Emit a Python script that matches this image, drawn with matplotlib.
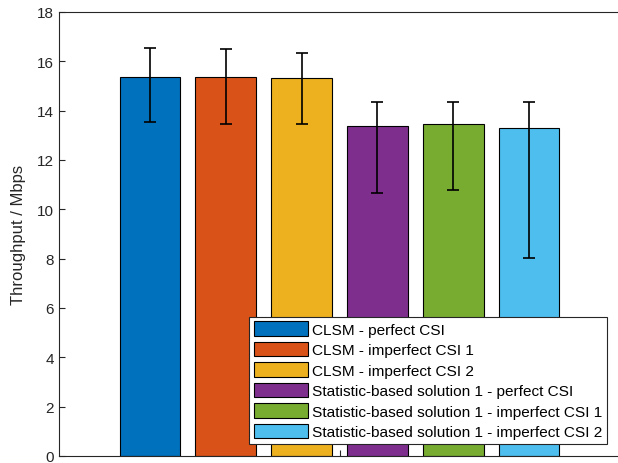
import numpy as np
import matplotlib
matplotlib.use('Agg')
import matplotlib.pyplot as plt

plt.rcParams['font.family'] = ['Liberation Sans', 'DejaVu Sans']

labels = ['CLSM - perfect CSI',
          'CLSM - imperfect CSI 1',
          'CLSM - imperfect CSI 2',
          'Statistic-based solution 1 - perfect CSI',
          'Statistic-based solution 1 - imperfect CSI 1',
          'Statistic-based solution 1 - imperfect CSI 2']
means = [15.38, 15.38, 15.31, 13.38, 13.46, 13.31]
err_low = [13.54, 13.46, 13.46, 10.66, 10.80, 8.03]
err_high = [16.55, 16.50, 16.32, 14.35, 14.35, 14.35]
colors = ['#0072BD', '#D95319', '#EDB120', '#7E2F8E', '#77AC30', '#4DBEEE']

fig = plt.figure(figsize=(6.18, 4.64), dpi=100)
ax = fig.add_axes([0.0955, 0.0151, 0.903, 0.957])

x = np.arange(len(means))
means_a = np.array(means)
yerr = [means_a - np.array(err_low), np.array(err_high) - means_a]

for i in range(len(means)):
    ax.bar(x[i], means[i], width=0.8, color=colors[i], edgecolor='black',
           linewidth=0.8, label=labels[i])
ax.errorbar(x, means, yerr=yerr, fmt='none', ecolor='black', elinewidth=1.2,
            capsize=4, capthick=1.2)

ax.set_xlim(2.5 - 3.7, 2.5 + 3.66)
ax.set_ylim(0, 18)
ax.set_yticks(np.arange(0, 19, 2))
ax.set_xticks([2.5])
ax.set_xticklabels([''])
ax.tick_params(direction='in', labelsize=11, length=4, colors='#262626')
ax.spines['right'].set_visible(False)
for s in ['left', 'top', 'bottom']:
    ax.spines[s].set_color('#262626')
    ax.spines[s].set_linewidth(0.8)
ax.set_ylabel('Throughput / Mbps', fontsize=12, color='#262626', labelpad=8)

leg = ax.legend(loc='lower right', bbox_to_anchor=(0.982, 0.027), fontsize=11.1,
                fancybox=False, edgecolor='#262626', framealpha=1,
                handlelength=3.5, handleheight=1.05, labelspacing=0.33,
                borderpad=0.3, handletextpad=0.3, borderaxespad=0)
leg.get_frame().set_linewidth(0.8)

fig.savefig('out.png', dpi=100)
